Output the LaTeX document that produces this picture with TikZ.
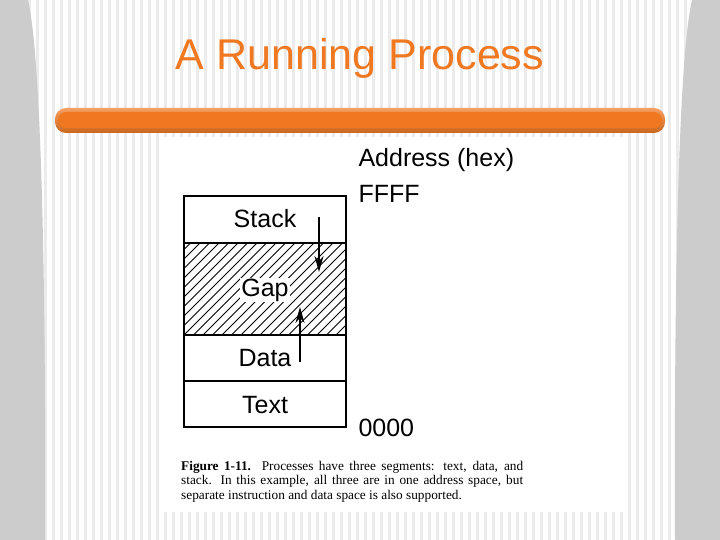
\documentclass[tikz,border=0pt]{standalone}
\usepackage{fontspec}
\setmainfont{Liberation Serif}
\setsansfont{Liberation Sans}
\usetikzlibrary{arrows.meta}
\definecolor{orng}{HTML}{F07820}
\definecolor{stripe}{HTML}{EBEBEB}
\begin{document}
\begin{tikzpicture}[x=1pt,y=-1pt,
  seg/.style={draw,line width=1.6pt},
  lbl/.style={font=\sffamily\fontsize{25}{28}\selectfont},
  arr/.style={line width=1.6pt,-{Stealth[length=16pt,width=9pt]}}]
\useasboundingbox (0,0) rectangle (720,540);
\fill[white] (0,0) rectangle (720,540);
\foreach \i in {0,...,89}{\fill[stripe] (\i*8+4,0) rectangle (\i*8+7,540);}
\fill[gray!40] (0,0) -- (28,0) .. controls (42,60) and (46,300) .. (45,540) -- (0,540) -- cycle;
\fill[gray!40] (720,0) -- (692,0) .. controls (678,60) and (674,300) .. (675,540) -- (720,540) -- cycle;
\fill[white] (160,137) rectangle (625,512);
\node[font=\sffamily\fontsize{43}{48}\selectfont,text=orng] (title) at (360,58) {A Running Process};
\shade[top color=orng!70,bottom color=orng!85!black,rounded corners=11pt] (55,108) rectangle (665,133);
\fill[orng,rounded corners=8pt] (58,112) rectangle (662,128);
% memory segments
\fill[white] (184,196) rectangle (346,427);
\begin{scope}
\clip (184,243) rectangle (346,335);
\foreach \k in {0,...,28}{\draw[line width=1pt] (184+\k*9.5-95,335) -- ++(95,-95);}
\end{scope}
\draw[seg] (184,196) rectangle (346,427);
\draw[seg] (184,243) -- (346,243);
\draw[seg] (184,335) -- (346,335);
\draw[seg] (184,381) -- (346,381);
\node[lbl,inner sep=1pt] (stack) at (265,219) {Stack};
\node[lbl,fill=white,inner sep=1pt] (gap) at (265,290) {Gap};
\node[lbl,inner sep=1pt] (data) at (265,358) {Data};
\node[lbl,inner sep=1pt] (text) at (265,405) {Text};
\coordinate (a1) at (319,217); \coordinate (a2) at (319,272);
\coordinate (b1) at (300,362); \coordinate (b2) at (300,307);
\draw[arr] (a1) -- (a2);
\draw[arr] (b1) -- (b2);
\node[lbl,anchor=west] (addr) at (355,160) {Address (hex)};
\node[lbl,anchor=west] (ffff) at (355,194) {FFFF};
\node[lbl,anchor=west] (zero) at (355,428) {0000};
\node[anchor=north west,text width=342pt,align=justify,inner sep=0pt,font=\fontsize{13.3}{14.5}\selectfont] (cap) at (181,461)
{\textbf{Figure 1-11.} Processes have three segments: text, data, and\linebreak stack. In this example, all three are in one address space, but\linebreak separate instruction and data space is also supported.};
\end{tikzpicture}
\end{document}
